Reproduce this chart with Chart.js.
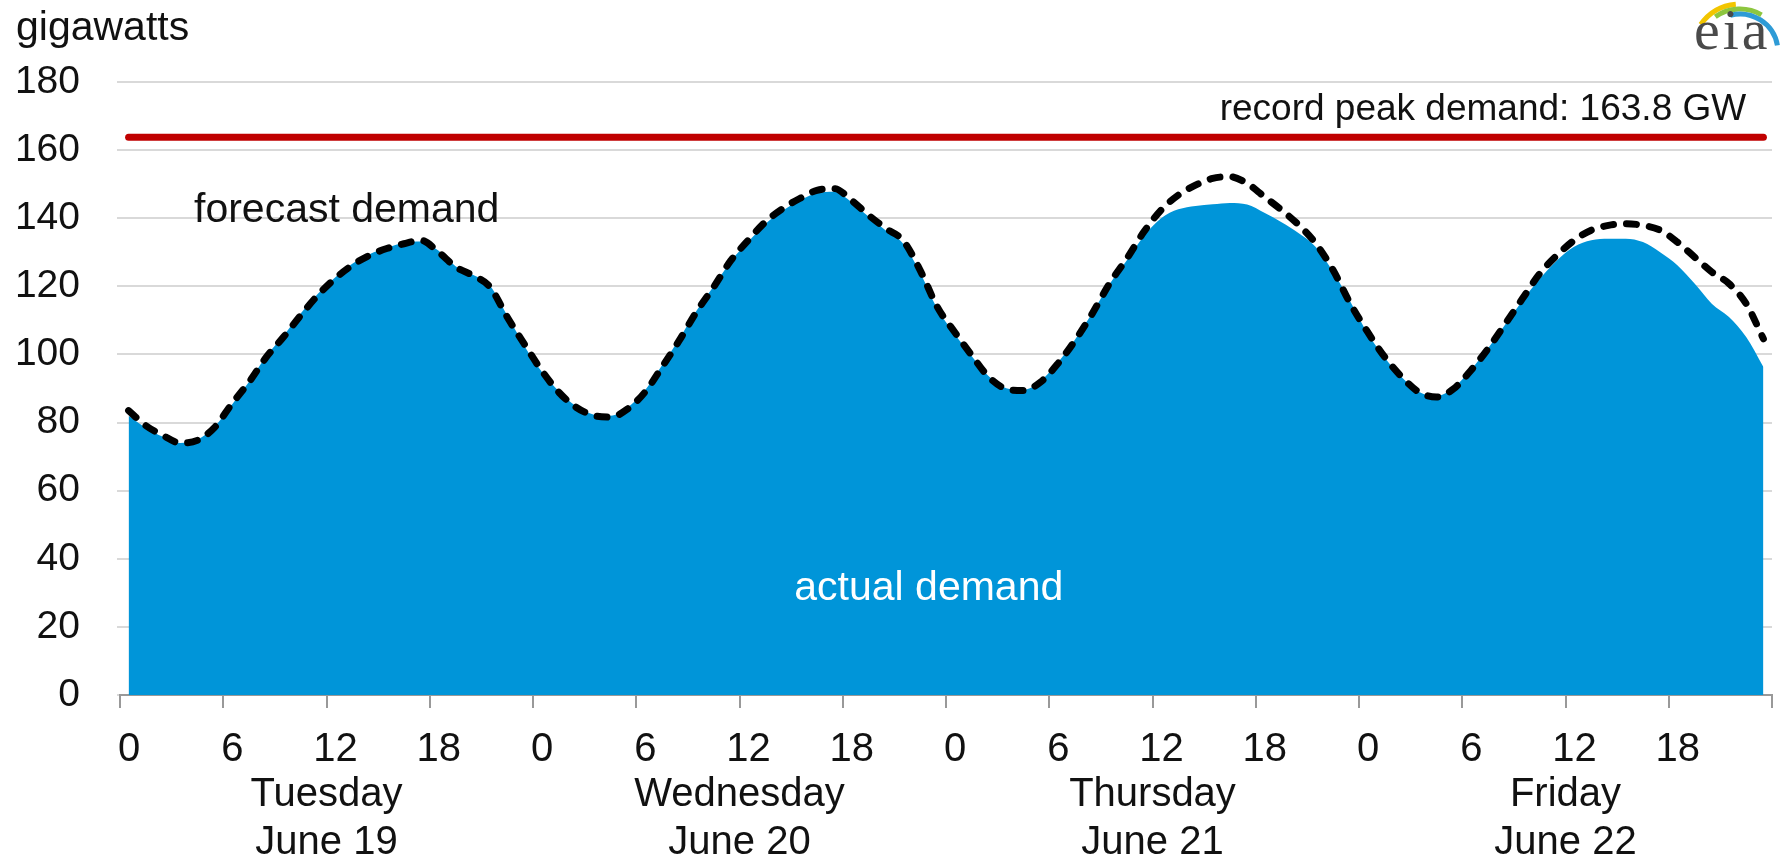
<!DOCTYPE html>
<html>
<head>
<meta charset="utf-8">
<script src="https://cdn.jsdelivr.net/npm/chart.js"></script>
<style>
  body { margin: 0; background: #fff; }
  #wrap { position: relative; width: 1790px; height: 862px; }
  #unit { position: absolute; left: 16px; top: 6px; font: 41px/41px 'Liberation Sans', Arial, sans-serif; color: #111; }
  #eia { position: absolute; left: 1694px; top: 1px; font: 58px/58px 'Liberation Serif', 'DejaVu Serif', serif; color: #4a4a4a; letter-spacing: 3px; }
  #arcs { position: absolute; left: 1690px; top: 0; }
</style>
</head>
<body>
<div id="wrap">
  <canvas id="myChart"></canvas>
  <div id="unit">gigawatts</div>
  <svg id="arcs" width="100" height="60">
    <path d="M 10.7 24.5 A 48 48 0 0 1 45.8 4.2" stroke="#f2c500" stroke-width="5" fill="none"/>
    <path d="M 25.3 16.8 A 43 43 0 0 1 71.5 14.8" stroke="#8dc63f" stroke-width="5" fill="none"/>
    <path d="M 40.2 15.3 A 38 38 0 0 1 87.4 45.4" stroke="#2e9bd6" stroke-width="5" fill="none"/>
  </svg>
  <div id="eia">eia</div>
</div>
<script>
// hourly demand, Tue June 19 hour 0 .. Fri June 22 hour 23 (GW)
const forecast = [
  83.5, 79.1, 76.2, 74.0, 74.8, 78.6, 85.5, 91.9, 99.2, 105.1, 111.5, 117.4,
  122.3, 126.2, 129.1, 131.1, 132.5, 133.5, 130.1, 125.7, 123.2, 119.8, 111.0, 103.0,
  95.3, 88.9, 84.5, 82.1, 81.6, 84.0, 88.9, 96.3, 104.1, 112.5, 119.8, 127.6,
  133.5, 138.9, 142.8, 145.8, 148.2, 148.7, 145.3, 140.9, 137.0, 133.5, 124.7, 113.9,
  106.6, 99.7, 93.3, 89.9, 89.4, 91.9, 97.3, 104.1, 112.0, 120.8, 128.1, 136.0,
  142.4, 146.8, 149.7, 151.7, 152.2, 150.2, 146.3, 142.4, 138.0, 132.5, 124.7, 114.9,
  106.6, 99.2, 93.3, 88.9, 87.5, 89.9, 95.3, 101.7, 109.0, 116.4, 123.7, 129.1,
  133.5, 136.5, 137.9, 138.4, 137.9, 136.5, 133.0, 128.6, 124.2, 120.8, 114.9, 104.6
]
const actual = [
  82.0, 78.5, 75.8, 74.0, 75.0, 78.8, 85.2, 92.0, 99.5, 105.5, 112.0, 117.8,
  122.6, 126.6, 129.4, 131.3, 132.8, 133.2, 130.5, 125.9, 123.4, 120.2, 111.5, 102.5,
  95.0, 89.2, 84.8, 82.4, 82.0, 84.4, 89.4, 96.8, 104.6, 112.8, 120.0, 127.4,
  133.0, 138.3, 142.2, 145.2, 147.4, 147.8, 144.8, 140.5, 136.4, 132.6, 124.0, 113.4,
  106.0, 99.5, 93.5, 90.1, 89.6, 92.2, 97.6, 104.4, 112.2, 120.6, 127.6, 134.8,
  140.0, 142.6, 143.6, 144.1, 144.5, 144.0, 141.6, 138.8, 135.6, 131.5, 124.2, 115.5,
  106.2, 99.0, 93.2, 89.0, 87.8, 90.2, 95.5, 101.8, 108.8, 115.8, 122.2, 127.6,
  131.6, 133.5, 134.0, 134.0, 133.0, 130.0, 126.2, 120.8, 114.9, 111.0, 105.1, 96.3
]
const days = ['Tuesday', 'Wednesday', 'Thursday', 'Friday']
const dates = ['June 19', 'June 20', 'June 21', 'June 22']
const recordPeak = 163.8

// points sit in the middle of their hour, like the excel original
const hours = actual.map((v, i) => i + 0.5)
const FONT = "'Liberation Sans', Arial, sans-serif"

const labelsPlugin = {
  id: 'labels',
  afterDatasetsDraw(chart) {
    const {ctx, scales: {x, y}, chartArea} = chart
    ctx.save()
    ctx.fillStyle = '#111'
    ctx.textBaseline = 'alphabetic'

    ctx.font = '37px ' + FONT
    ctx.textAlign = 'right'
    ctx.fillText('record peak demand: ' + recordPeak + ' GW', x.getPixelForValue(94.5), y.getPixelForValue(recordPeak) - 17)

    ctx.font = '41px ' + FONT
    ctx.textAlign = 'left'
    ctx.fillText('forecast demand', x.getPixelForValue(4.3), y.getPixelForValue(138.9))

    ctx.fillStyle = '#fff'
    ctx.textAlign = 'center'
    ctx.fillText('actual demand', x.getPixelForValue(47), y.getPixelForValue(27.9))

    // day names under the hour ticks
    ctx.fillStyle = '#111'
    ctx.font = '40px ' + FONT
    days.forEach((d, i) => {
      const px = x.getPixelForValue(12 + 24 * i)
      ctx.fillText(d, px, chartArea.bottom + 111)
      ctx.fillText(dates[i], px, chartArea.bottom + 159)
    })
    ctx.restore()
  }
}

const cfg = {
  type: 'line',
  data: {
    datasets: [{
      label: 'forecast demand',
      data: hours.map((h, i) => ({x: h, y: forecast[i]})),
      borderColor: '#000',
      borderWidth: 7,
      borderDash: [10, 13],
      borderCapStyle: 'round',
      pointRadius: 0,
      cubicInterpolationMode: 'monotone',
      fill: false,
      order: 0
    }, {
      label: 'record peak demand',
      data: [{x: hours[0], y: recordPeak}, {x: hours[hours.length - 1], y: recordPeak}],
      borderColor: '#c00000',
      borderWidth: 7,
      borderCapStyle: 'round',
      pointRadius: 0,
      fill: false,
      order: 1
    }, {
      label: 'actual demand',
      data: hours.map((h, i) => ({x: h, y: actual[i]})),
      backgroundColor: '#0095d9',
      borderWidth: 0,
      pointRadius: 0,
      cubicInterpolationMode: 'monotone',
      fill: 'origin',
      order: 2
    }]
  },
  options: {
    responsive: true,
    maintainAspectRatio: false,
    animation: false,
    layout: {padding: {top: 82, right: 8}},
    plugins: {legend: {display: false}, tooltip: {enabled: false}},
    scales: {
      x: {
        type: 'linear',
        min: 0,
        max: 96,
        afterFit: s => { s.height = 167 },
        border: {display: true, color: '#999', width: 2},
        grid: {drawOnChartArea: false, drawTicks: true, tickLength: 13, color: '#999', lineWidth: 2},
        ticks: {
          stepSize: 6,
          autoSkip: false,
          maxRotation: 0,
          padding: 18,
          labelOffset: 9,
          color: '#111',
          font: {family: FONT, size: 40},
          callback: v => v === 96 ? '' : String(v % 24)
        }
      },
      y: {
        min: 0,
        max: 180,
        afterFit: s => { s.width = 120 },
        border: {display: false},
        grid: {color: '#d9d9d9', lineWidth: 2, tickLength: 3},
        ticks: {
          stepSize: 20,
          padding: 37,
          color: '#111',
          font: {family: FONT, size: 39}
        }
      }
    }
  },
  plugins: [labelsPlugin]
}

const ctx = document.getElementById('myChart')
const myChart = new Chart(ctx, cfg)
</script>
</body>
</html>
